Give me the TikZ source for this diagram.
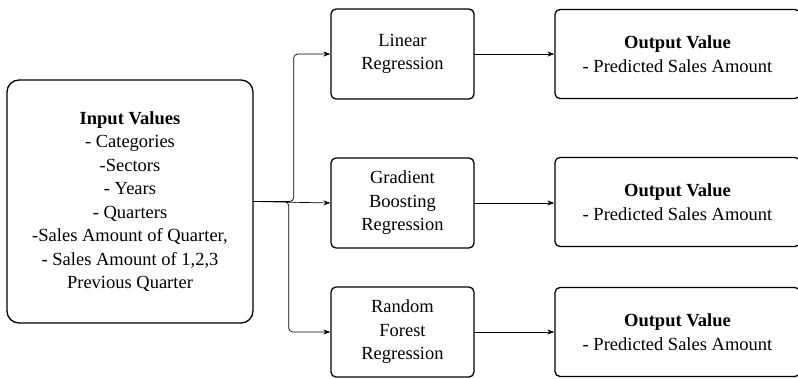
\documentclass[tikz,border=0pt]{standalone}
\usepackage{fontspec}
\setmainfont{Liberation Serif}
\usetikzlibrary{arrows.meta}
\begin{document}
\begin{tikzpicture}[x=1pt, y=-1pt, font=\fontsize{18.5}{23.5}\selectfont, line join=round, line cap=round, >={Stealth[length=7pt,width=5pt]},
		box/.style={draw, line width=1.3pt, rounded corners=5pt, align=center, inner sep=0pt},
		model/.style={box, minimum width=143pt, minimum height=90pt},
		result/.style={box, minimum width=245pt, minimum height=89pt},
		flow/.style={->, line width=0.7pt, rounded corners=4pt}]
	\useasboundingbox (0,0) rectangle (798,378);
	\node[box, rounded corners=12pt, minimum width=246pt, minimum height=243pt] (inp) at (130,201.5)
		{\textbf{Input Values}\\- Categories\\-Sectors\\- Years\\- Quarters\\-Sales Amount of Quarter,\\- Sales Amount of 1,2,3\\Previous Quarter};
	\node[model] (lin) at (402.5,54) {Linear\\Regression};
	\node[model] (gbr) at (402.5,203) {Gradient\\Boosting\\Regression};
	\node[model] (rfr) at (402.5,332) {Random\\Forest\\Regression};
	\node[result] (outa) at (677.5,54) {\textbf{Output Value}\\- Predicted Sales Amount};
	\node[result] (outb) at (677.5,202) {\textbf{Output Value}\\- Predicted Sales Amount};
	\node[result] (outc) at (677.5,332) {\textbf{Output Value}\\- Predicted Sales Amount};
	\draw[flow] (inp.east) -- ++(40,0) |- (lin.west);
	\draw[flow] (inp.east) -- (gbr.west);
	\draw[flow] (inp.east) -- ++(35,0) |- (rfr.west);
	\draw[flow] (lin) -- (outa);
	\draw[flow] (gbr.east) -- (gbr.east -| outb.west);
	\draw[flow] (rfr) -- (outc);
\end{tikzpicture}
\end{document}
